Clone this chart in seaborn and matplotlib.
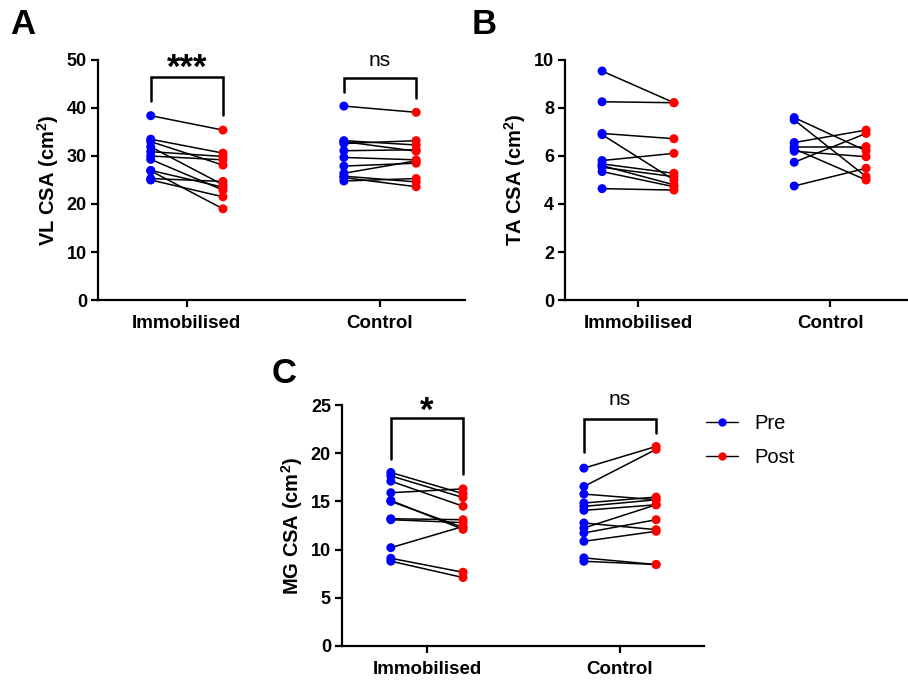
import numpy as np
import pandas as pd
import matplotlib
matplotlib.use("Agg")
import matplotlib.pyplot as plt
from matplotlib.lines import Line2D
import seaborn as sns

sns.set_style("ticks")
plt.rcParams['font.family'] = ['Liberation Sans', 'DejaVu Sans']
plt.rcParams['mathtext.fontset'] = 'custom'
plt.rcParams['mathtext.rm'] = 'Liberation Sans'
plt.rcParams['mathtext.bf'] = 'Liberation Sans:bold'
plt.rcParams['text.color'] = 'black'
plt.rcParams['axes.labelcolor'] = 'black'
plt.rcParams['xtick.color'] = 'black'
plt.rcParams['ytick.color'] = 'black'
plt.rcParams['axes.edgecolor'] = 'black'

groups = ["Immobilised", "Control"]

# Panel A: VL CSA
vl_imm_pre = [38.4, 33.5, 33.0, 31.9, 30.9, 30.0, 29.3, 26.9, 25.3, 25.0, 27.0]
vl_imm_post = [35.4, 30.6, 28.1, 24.0, 29.9, 29.2, 22.9, 19.0, 24.7, 21.5, 23.5]
vl_con_pre = [40.4, 33.2, 32.6, 31.1, 29.7, 27.9, 26.4, 25.8, 24.8, 25.5, 33.0]
vl_con_post = [39.1, 32.3, 33.2, 31.3, 29.2, 28.5, 29.0, 24.6, 25.3, 23.6, 31.0]

# Panel B: TA CSA
ta_imm_pre = [9.54, 8.26, 6.94, 6.89, 5.81, 5.67, 5.53, 5.35, 5.60, 4.64]
ta_imm_post = [8.22, 8.22, 6.72, 5.00, 6.11, 5.28, 5.14, 4.72, 4.80, 4.58]
ta_con_pre = [7.60, 7.50, 6.56, 6.39, 6.30, 6.20, 5.74, 4.75]
ta_con_post = [6.22, 5.14, 7.08, 6.39, 5.00, 5.97, 6.94, 5.49]

# Panel C: MG CSA
mg_imm_pre = [18.0, 17.65, 17.1, 15.9, 15.1, 15.0, 13.2, 13.1, 10.2, 9.1, 8.8]
mg_imm_post = [15.8, 15.4, 14.5, 16.3, 12.1, 12.3, 13.1, 12.8, 12.4, 7.65, 7.1]
mg_con_pre = [18.45, 16.55, 15.76, 14.83, 14.48, 14.07, 12.76, 12.24, 11.73, 10.86, 9.14, 8.79]
mg_con_post = [20.7, 20.4, 15.17, 15.45, 15.17, 14.65, 12.07, 14.65, 13.1, 11.9, 8.45, 8.45]

panels = {
    "A": dict(imm=(vl_imm_pre, vl_imm_post), con=(vl_con_pre, vl_con_post),
              ylabel="VL CSA (cm$^{\\mathbf{2}}$)", ylim=50, yticks=[0, 10, 20, 30, 40, 50],
              rect=[98/908, 1-300/682, (465-98)/908, 240/682], xlim=(0.54, 2.44),
              sig=[("***", 46.4, 41.5, 38.5, 49.6), ("ns", 46.2, 43.4, 42.0, 50.0)]),
    "B": dict(imm=(ta_imm_pre, ta_imm_post), con=(ta_con_pre, ta_con_post),
              ylabel="TA CSA (cm$^{\\mathbf{2}}$)", ylim=10, yticks=[0, 2, 4, 6, 8, 10],
              rect=[565/908, 1-300/682, (907-565)/908, 240/682], xlim=(0.62, 2.40),
              sig=[]),
    "C": dict(imm=(mg_imm_pre, mg_imm_post), con=(mg_con_pre, mg_con_post),
              ylabel="MG CSA (cm$^{\\mathbf{2}}$)", ylim=25, yticks=[0, 5, 10, 15, 20, 25],
              rect=[342/908, 1-646/682, (704-342)/908, 241/682], xlim=(0.56, 2.435),
              sig=[("*", 23.6, 19.4, 17.8, 25.0), ("ns", 23.5, 20.1, 22.1, 25.6)]),
}
letter_pos = {"A": (10/908, 1-8/682), "B": (472/908, 1-8/682), "C": (272/908, 1-357/682)}

fig = plt.figure(figsize=(9.08, 6.82), dpi=100)
offset = 0.187

for key, p in panels.items():
    ax = fig.add_axes(p["rect"])
    rows = []
    for gi, (gname, gk) in enumerate([("Immobilised", "imm"), ("Control", "con")]):
        pre, post = p[gk]
        for si, (a, b) in enumerate(zip(pre, post)):
            sid = f"{gk}{si}"
            rows.append(dict(subject=sid, time="Pre", x=gi + 1 - offset, value=a))
            rows.append(dict(subject=sid, time="Post", x=gi + 1 + offset, value=b))
    df = pd.DataFrame(rows)
    sns.lineplot(data=df, x="x", y="value", units="subject", estimator=None,
                 color="black", lw=1.1, ax=ax, zorder=2)
    sns.scatterplot(data=df, x="x", y="value", hue="time",
                    palette={"Pre": "#0000ff", "Post": "#ff0000"}, s=42,
                    edgecolor="none", legend=False, ax=ax, zorder=3)
    ax.set_xlim(*p["xlim"])
    ax.set_ylim(0, p["ylim"])
    ax.set_yticks(p["yticks"])
    ax.set_xticks([1, 2])
    ax.set_xticklabels(groups, fontweight="bold", fontsize=13.5)
    for lab in ax.get_yticklabels():
        lab.set_fontweight("bold")
        lab.set_fontsize(13)
    ax.set_xlabel("")
    ax.set_ylabel(p["ylabel"], fontweight="bold", fontsize=14.5, labelpad=4)
    for sp in ["top", "right"]:
        ax.spines[sp].set_visible(False)
    for sp in ["left", "bottom"]:
        ax.spines[sp].set_linewidth(1.6)
        ax.spines[sp].set_clip_on(False)
    ax.tick_params(axis="y", width=1.6, length=5, pad=3)
    ax.tick_params(axis="x", width=1.6, length=5, pad=6)
    for gi, (txt, top, lleg, rleg, ty) in enumerate(p["sig"]):
        xl, xr = gi + 1 - offset, gi + 1 + offset
        ax.plot([xl, xl, xr, xr], [lleg, top, top, rleg], color="black", lw=1.8,
                clip_on=False, solid_joinstyle="miter")
        if txt == "ns":
            ax.text(gi + 1, ty, txt, ha="center", va="center", fontsize=15)
        else:
            ax.text(gi + 1, ty - 0.025 * p["ylim"], txt, ha="center", va="center",
                    fontsize=25, fontweight="bold")
    lx, ly = letter_pos[key]
    fig.text(lx, ly, key, fontsize=25, fontweight="bold", ha="left", va="top")

handles = [Line2D([0], [0], color="black", lw=1, marker="o", markersize=6,
                  markerfacecolor="#0000ff", markeredgecolor="none", label="Pre"),
           Line2D([0], [0], color="black", lw=1, marker="o", markersize=6,
                  markerfacecolor="#ff0000", markeredgecolor="none", label="Post")]
fig.legend(handles=handles, loc="upper left", bbox_to_anchor=(688/908, 1-396/682),
           frameon=False, fontsize=14.5, handlelength=1.6, labelspacing=0.75,
           handletextpad=0.8)

fig.savefig("out.png", dpi=100)
